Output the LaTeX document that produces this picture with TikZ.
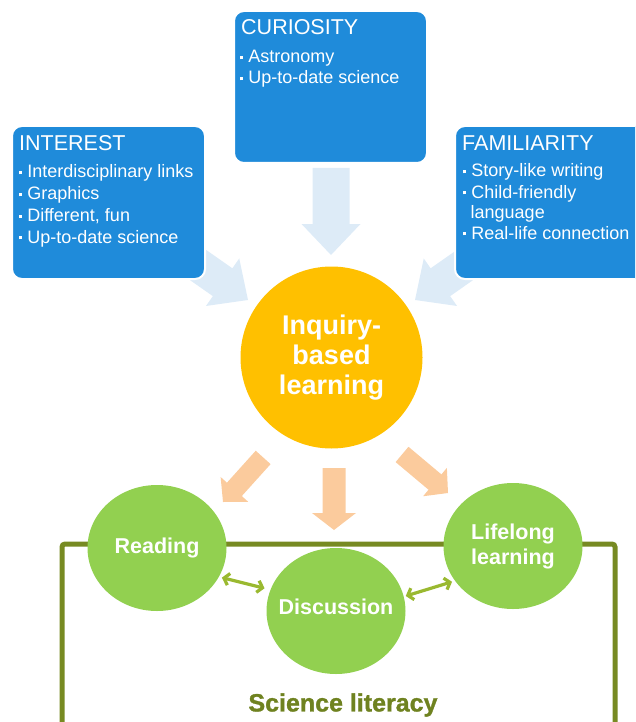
\documentclass[tikz,border=0pt]{standalone}
\usepackage{fontspec}
\setmainfont{Liberation Sans}
\newfontfamily\slfont[FakeBold=1.2]{Liberation Sans Bold}
\usetikzlibrary{arrows.meta,shapes.geometric,calc}
\definecolor{boxblue}{HTML}{1F8BDA}
\definecolor{lightblue}{HTML}{DDEBF7}
\definecolor{orangec}{HTML}{FFC000}
\definecolor{peach}{HTML}{FBCB9D}
\definecolor{leaf}{HTML}{92D050}
\definecolor{olive}{HTML}{778A22}
\definecolor{slcolor}{HTML}{6F8220}
\definecolor{limec}{HTML}{9AB930}
\newcommand{\bulsq}{\rule[0.2em]{0.17em}{0.17em}\hspace{0.28em}}
% tip x, tip y, angle, length, head length, shaft half width, head half width, colour
\newcommand{\blockarrow}[8]{%
  \begin{scope}[shift={(#1,#2)},rotate=#3]
    \fill[#8] (-#4,-#6) -- (-#5,-#6) -- (-#5,-#7) -- (0,0) -- (-#5,#7) -- (-#5,#6) -- (-#4,#6) -- cycle;
  \end{scope}}
\tikzset{
  infobox/.style={draw=white, line width=2pt, fill=boxblue, rounded corners=10pt, inner sep=0pt},
  boxtitle/.style={anchor=base west, inner sep=0pt, text=white, font=\fontsize{21.5}{24}\selectfont},
  boxitem/.style={anchor=base west, inner sep=0pt, text=white, font=\fontsize{18}{21}\selectfont},
  bubble/.style={ellipse, fill=leaf, minimum width=139pt, minimum height=126pt, inner sep=0pt},
  bubtext/.style={text=white, align=center, inner sep=0pt, font=\bfseries\fontsize{21.5}{25}\selectfont},
  dblarrow/.style={limec, line width=3.2pt, {Straight Barb[length=5pt,width=12pt]}-{Straight Barb[length=5pt,width=12pt]}}
}
\begin{document}
\begin{tikzpicture}[x=1pt,y=-1pt]
\useasboundingbox (0,0) rectangle (635,722);
\clip (0,0) rectangle (635,722);
% light blue arrows
\blockarrow{248}{300}{-35}{90}{31}{17}{29}{lightblue}
\blockarrow{415}{300}{-145}{90}{31}{17}{29}{lightblue}
\blockarrow{331}{255}{-90}{87}{31}{18.5}{29.5}{lightblue}
% boxes
\node[infobox, minimum width=193pt, minimum height=153pt] (interest) at (108.5,202.5) {};
\node[infobox, minimum width=193pt, minimum height=152pt] (curiosity) at (330.5,87) {};
\node[infobox, minimum width=193pt, minimum height=153pt] (familiarity) at (551.5,202.5) {};
% box texts
\node[boxtitle] (intT) at (19,151) {INTEREST};
\node[boxitem] (int1) at (19,178) {\bulsq Interdisciplinary links};
\node[boxitem] (int2) at (19,200) {\bulsq Graphics};
\node[boxitem] (int3) at (19,221.5) {\bulsq Different, fun};
\node[boxitem] (int4) at (19,243) {\bulsq Up-to-date science};
\node[boxtitle] (curT) at (241,35) {CURIOSITY};
\node[boxitem] (cur1) at (240,63) {\bulsq Astronomy};
\node[boxitem] (cur2) at (240,84) {\bulsq Up-to-date science};
\node[boxtitle] (famT) at (462,151) {FAMILIARITY};
\node[boxitem] (fam1) at (463,177) {\bulsq Story-like writing};
\node[boxitem] (fam2) at (463,198) {\bulsq Child-friendly};
\node[boxitem] (fam2b) at (470.5,218.5) {language};
\node[boxitem] (fam3) at (463,239) {\bulsq Real-life connection};
% central circle
\node[circle, fill=orangec, minimum size=182pt, inner sep=0pt, text=white, align=center,
  font=\bfseries\fontsize{27}{30}\selectfont] (inq) at (331.5,357.5) {Inquiry-\\based\\learning};
% peach arrows
\blockarrow{223}{502}{-132}{60}{17}{10}{18.5}{peach}
\blockarrow{334}{530}{-90}{62}{17}{11.5}{22}{peach}
\blockarrow{448}{493}{-40}{60}{17}{10}{18.5}{peach}
% science literacy frame
\draw[olive, line width=5pt, rounded corners=3pt] (62,740) -- (62,544) -- (615,544) -- (615,740);
% green bubbles
\node[bubble, label={[bubtext]center:Reading}] (read) at (157,548) {};
\node[bubble, label={[bubtext, yshift=4pt]center:Discussion}] (disc) at (336,611) {};
\node[bubble, label={[bubtext]center:{Lifelong\\learning}}] (life) at (513,546) {};
% double arrows
\draw[dblarrow, shorten <=3pt, shorten >=6pt] (read.-25) -- (disc.162.5);
\draw[dblarrow, shorten <=2pt, shorten >=3pt] (disc.12) -- (life.-149);
% label
\node[text=slcolor, inner sep=0pt, font=\slfont\fontsize{25}{28}\selectfont] (sl) at (343,705) {Science literacy};
\end{tikzpicture}
\end{document}
